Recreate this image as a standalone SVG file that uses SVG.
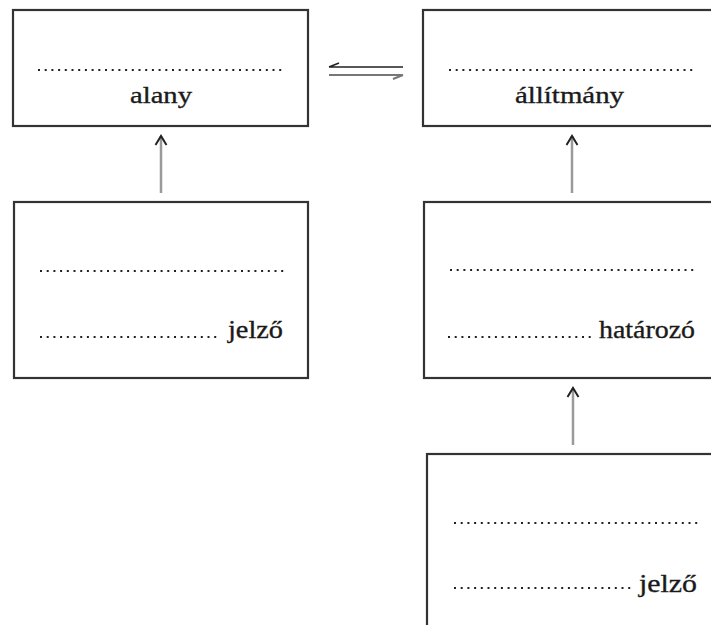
<svg xmlns="http://www.w3.org/2000/svg" width="711" height="625" viewBox="0 0 711 625">
<defs>
<style>
.box{fill:#fff;stroke:#333;stroke-width:2.2}
.dots{stroke:#222;stroke-width:1.8;stroke-dasharray:2 4.7;fill:none}
.lbl{fill:#1a1a1a;stroke:#1a1a1a;stroke-width:0.35}
.shaft{stroke:#9a9a9a;stroke-width:2.5;fill:none}
</style>
<marker id="ah" markerUnits="userSpaceOnUse" markerWidth="14" markerHeight="14" viewBox="0 0 14 14" refX="11" refY="7" orient="auto">
<path d="M2,1.5 L11,7 L2,12.5" fill="none" stroke="#222" stroke-width="2"/>
</marker>
</defs>
<rect width="711" height="625" fill="#fff"/>
<g id="alany">
<rect class="box" x="13" y="10" width="295" height="116"/>
<line class="dots" x1="38" y1="70" x2="284" y2="70"/>
<text class="lbl" font-family="Liberation Serif, DejaVu Serif, serif" x="130" y="103" font-size="24" textLength="62" lengthAdjust="spacingAndGlyphs">alany</text>
</g>
<g id="allitmany">
<rect class="box" x="423" y="10" width="300" height="116"/>
<line class="dots" x1="449" y1="70" x2="694" y2="70"/>
<text class="lbl" font-family="Liberation Serif, DejaVu Serif, serif" x="515" y="103" font-size="24" textLength="109" lengthAdjust="spacingAndGlyphs">állítmány</text>
</g>
<g id="jelzo1">
<rect class="box" x="14" y="202" width="294" height="176"/>
<line class="dots" x1="40" y1="271" x2="284" y2="271"/>
<line class="dots" x1="40" y1="337" x2="220" y2="337"/>
<text class="lbl" font-family="Liberation Serif, DejaVu Serif, serif" x="228" y="338" font-size="26" textLength="55" lengthAdjust="spacingAndGlyphs">jelző</text>
</g>
<g id="hatarozo">
<rect class="box" x="424" y="202" width="300" height="176"/>
<line class="dots" x1="450" y1="270" x2="694" y2="270"/>
<line class="dots" x1="448" y1="337" x2="592" y2="337"/>
<text class="lbl" font-family="Liberation Serif, DejaVu Serif, serif" x="599" y="338" font-size="26" textLength="96" lengthAdjust="spacingAndGlyphs">határozó</text>
</g>
<g id="jelzo2">
<rect class="box" x="427" y="454" width="300" height="200"/>
<line class="dots" x1="454" y1="523" x2="698" y2="523"/>
<line class="dots" x1="454" y1="588" x2="634" y2="588"/>
<text class="lbl" font-family="Liberation Serif, DejaVu Serif, serif" x="639" y="592" font-size="26" textLength="58" lengthAdjust="spacingAndGlyphs">jelző</text>
</g>
<g id="connectors">
<line class="shaft" x1="161" y1="193" x2="161" y2="136" marker-end="url(#ah)"/>
<line class="shaft" x1="572" y1="193" x2="572" y2="136" marker-end="url(#ah)"/>
<line class="shaft" x1="573" y1="445" x2="573" y2="388" marker-end="url(#ah)"/>
<g id="equilibrium">
<path d="M329,67 L403,67 M329,67 L339,63" fill="none" stroke="#222" stroke-width="1.6"/>
<path d="M329,75 L403,75 M403,75 L393,79" fill="none" stroke="#777" stroke-width="2"/>
</g>
</g>
</svg>
